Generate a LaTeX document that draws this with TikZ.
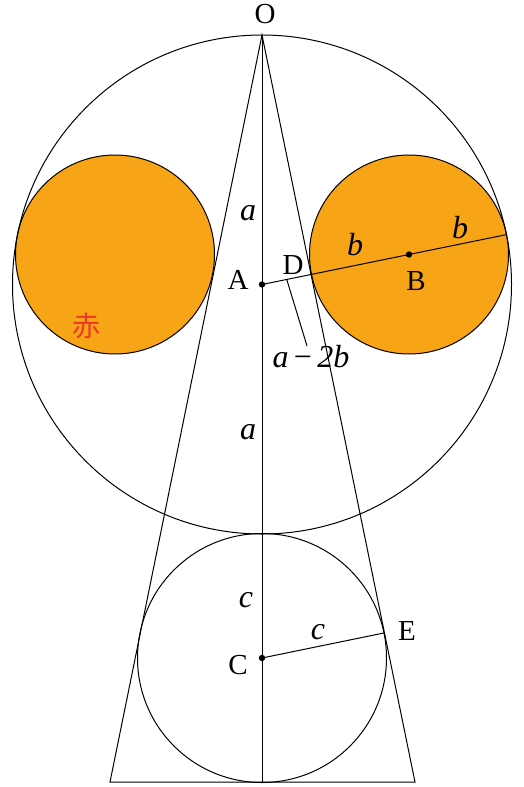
\documentclass[tikz,border=0pt]{standalone}
\usepackage{fontspec}
\setmainfont{Liberation Serif}
\newfontfamily\cjkfont{Noto Sans CJK JP}
\usetikzlibrary{calc}
\definecolor{ballorange}{RGB}{247,164,22}
\definecolor{akared}{RGB}{234,56,40}
\tikzset{
    geom/.style  = {draw, line width=0.5pt},
    ball/.style  = {draw, fill=ballorange, line width=0.5pt},
    dot/.style   = {circle, fill, inner sep=0pt, minimum size=3.2pt},
    lbl/.style   = {font=\fontsize{14.5}{16}\selectfont, inner sep=0pt},
    len/.style   = {font=\fontsize{16}{18}\selectfont\itshape, inner sep=0pt}
}
\begin{document}
\begin{tikzpicture}[x=0.5pt, y=-0.5pt]
  \useasboundingbox (0,0) rectangle (524,787);

  \coordinate (O) at (262,35);
  \coordinate (A) at (262,284.5);
  \coordinate (B) at (409,254.5);
  \coordinate (C) at (262,658);
  \coordinate (L) at (110,782);
  \coordinate (R) at (415,782);
  \coordinate (F) at (262,782);
  \coordinate (Bout) at ($(A)!1.6633!(B)$);
  \coordinate (D) at ($(A)!0.3367!(B)$);
  \coordinate (M) at ($(A)!0.5!(D)$);
  \coordinate (E) at ($(O)!(C)!(R)$);
  \coordinate (tip) at (307,346);

  % two orange balls
  \draw [ball] (115,254.5) circle [radius=99.5];
  \draw [ball] (B) circle [radius=99.5];

  \draw [geom] (A) circle [radius=249.5];
  \draw [geom] (C) circle [radius=124.5];
  \draw [geom] (O) -- (L) -- (R) -- cycle;
  \draw [geom] (O) -- (F);
  \draw [geom] (A) -- (Bout);
  \draw [geom] (C) -- (E);
  \draw [geom] (M) -- (tip);

  \node [dot] at (A) {};
  \node [dot] at (B) {};
  \node [dot] at (C) {};

  \node [lbl] (lO) at (265,14) {O};
  \node [lbl] (lA) at (238,280) {A};
  \node [lbl] (lB) at (416,281) {B};
  \node [lbl] (lC) at (238,665) {C};
  \node [lbl] (lD) at (293,265) {D};
  \node [lbl] (lE) at (407,631) {E};

  \node [len] (a1) at (248,213) {a};
  \node [len] (a2) at (248,432) {a};
  \node [len] (b1) at (355,245) {b};
  \node [len] (b2) at (460,228) {b};
  \node [len] (c1) at (246,600) {c};
  \node [len] (c2) at (318,632) {c};
  \node [len, anchor=north] (amb) at (311,345) {a\,{\upshape −}\,2b};

  \node [font=\cjkfont\fontsize{14}{16}\selectfont, text=akared,
         inner sep=0pt] (aka) at (86,326) {赤};
\end{tikzpicture}
\end{document}
